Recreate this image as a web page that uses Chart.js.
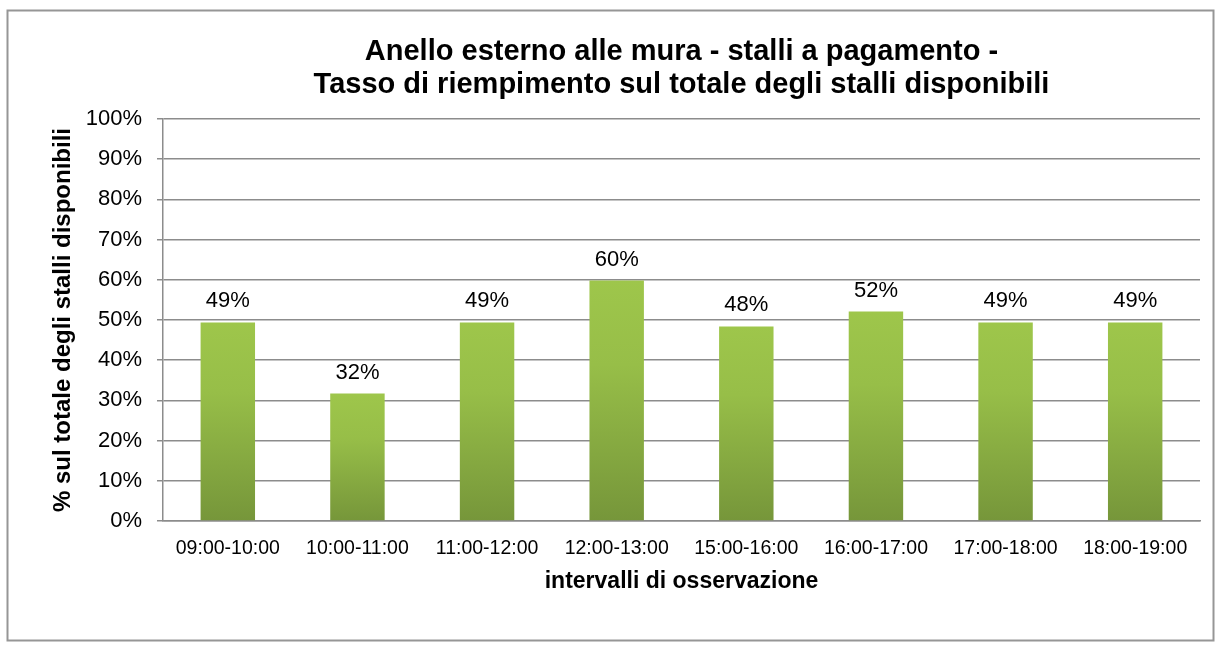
<!DOCTYPE html>
<html>
<head>
<meta charset="utf-8">
<script src="https://cdn.jsdelivr.net/npm/chart.js@4.4.1/dist/chart.umd.min.js"></script>
<style>
  html, body { margin: 0; padding: 0; background: #ffffff; }
  #wrap { width: 1223px; height: 648px; position: relative; }
</style>
</head>
<body>
<div id="wrap"><canvas id="c" width="1223" height="648"></canvas></div>
<script>
// ---- data ----
const categories = ['09:00-10:00', '10:00-11:00', '11:00-12:00', '12:00-13:00', '15:00-16:00', '16:00-17:00', '17:00-18:00', '18:00-19:00'];
const fillRates = [49.4, 31.7, 49.4, 59.8, 48.4, 52.1, 49.4, 49.4];
const titleLines = ['Anello esterno alle mura - stalli a pagamento -', 'Tasso di riempimento sul totale degli stalli disponibili'];
const yAxisTitle = '% sul totale degli stalli disponibili';
const xAxisTitle = 'intervalli di osservazione';
const yMin = 0, yMax = 100, yStep = 10;

const FONT = "'Liberation Sans', Arial, Helvetica, sans-serif";
const GRID = '#8c8c8c';

const frame = {
  id: 'frame',
  beforeDraw(chart) {
    const ctx = chart.ctx;
    ctx.save();
    ctx.fillStyle = '#ffffff';
    ctx.fillRect(0, 0, chart.width, chart.height);
    ctx.strokeStyle = '#969696';
    ctx.lineWidth = 2;
    ctx.strokeRect(7.5, 10.5, 1206, 630);
    ctx.restore();
  }
};

const valueLabels = {
  id: 'valueLabels',
  afterDatasetsDraw(chart) {
    const ctx = chart.ctx;
    const meta = chart.getDatasetMeta(0);
    ctx.save();
    ctx.font = '22px ' + FONT;
    ctx.fillStyle = '#000000';
    ctx.textAlign = 'center';
    ctx.textBaseline = 'middle';
    meta.data.forEach((bar, i) => {
      const v = chart.data.datasets[0].data[i];
      ctx.fillText(Math.round(v) + '%', bar.x, bar.y - 21);
    });
    ctx.restore();
  }
};

function barGradient(context) {
  const chart = context.chart;
  const y = chart.scales && chart.scales.y;
  if (!y || context.dataIndex === undefined) return '#8db246';
  const v = context.dataset.data[context.dataIndex];
  const top = y.getPixelForValue(v);
  const bottom = y.getPixelForValue(0);
  if (!isFinite(top) || !isFinite(bottom) || top === bottom) return '#8db246';
  const g = chart.ctx.createLinearGradient(0, top, 0, bottom);
  g.addColorStop(0, '#9ec64b');
  g.addColorStop(0.35, '#97be48');
  g.addColorStop(1, '#76963a');
  return g;
}

new Chart(document.getElementById('c'), {
  type: 'bar',
  data: {
    labels: categories,
    datasets: [{
      data: fillRates,
      backgroundColor: barGradient,
      borderWidth: 0,
      barPercentage: 0.42,
      categoryPercentage: 1.0
    }]
  },
  options: {
    responsive: false,
    animation: false,
    devicePixelRatio: 1,
    layout: { padding: { left: 0, right: 23, top: 10, bottom: 27 } },
    plugins: {
      legend: { display: false },
      tooltip: { enabled: false },
      title: {
        display: true,
        fullSize: false,
        text: titleLines,
        color: '#000000',
        font: { family: FONT, size: 29, weight: 'bold', lineHeight: 33 / 29 },
        padding: { top: 25, bottom: 18 }
      }
    },
    scales: {
      x: {
        grid: { display: false, drawTicks: false },
        border: { display: true, color: GRID, width: 1.5 },
        ticks: {
          color: '#000000',
          font: { family: FONT, size: 19.5 },
          padding: 16,
          maxRotation: 0,
          autoSkip: false
        },
        title: {
          display: true,
          text: xAxisTitle,
          color: '#000000',
          font: { family: FONT, size: 23, weight: 'bold' },
          padding: { top: 0, bottom: 26 }
        },
        afterFit(scale) { scale.height = 100; }
      },
      y: {
        min: yMin,
        max: yMax,
        grid: { color: GRID, lineWidth: 1.5, tickLength: 6, drawTicks: true },
        border: { display: true, color: GRID, width: 1.5 },
        ticks: {
          stepSize: yStep,
          color: '#000000',
          font: { family: FONT, size: 22 },
          padding: 15,
          callback: (v) => v + '%'
        },
        title: {
          display: true,
          text: yAxisTitle,
          color: '#000000',
          font: { family: FONT, size: 24, weight: 'bold' },
          padding: { top: 49, bottom: 0 }
        },
        afterFit(scale) { scale.width = 163; }
      }
    }
  },
  plugins: [frame, valueLabels]
});
</script>
</body>
</html>
